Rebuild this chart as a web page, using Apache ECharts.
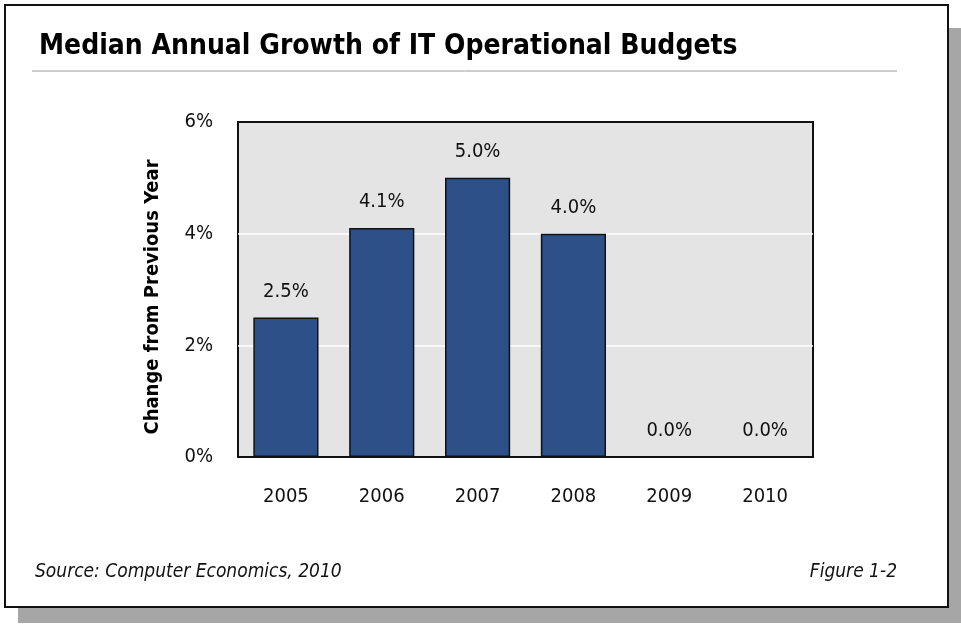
<!DOCTYPE html>
<html>
<head>
<meta charset="utf-8">
<script src="https://cdn.jsdelivr.net/npm/echarts@6/dist/echarts.min.js"></script>
<style>
  html, body { margin: 0; padding: 0; background: #fff; }
  #chart { width: 961px; height: 625px; }
</style>
</head>
<body>
<div id="chart"></div>
<script>
// Median annual growth of IT operational budgets, by year
const years = ['2005', '2006', '2007', '2008', '2009', '2010'];
const growth = [2.5, 4.1, 5.0, 4.0, 0.0, 0.0];
const yTicks = [0, 2, 4, 6];

const narrow = '"DejaVu Sans Condensed", "Liberation Sans Narrow", Arial, sans-serif';

const chart = echarts.init(document.getElementById('chart'), null, { renderer: 'canvas' });

// zero-height bars get no outline so nothing is drawn on the baseline
const barData = growth.map(v => v === 0 ? { value: v, itemStyle: { borderWidth: 0 } } : v);

chart.setOption({
  backgroundColor: '#ffffff',
  animation: false,
  graphic: [
    // drop shadow behind the framed panel
    { type: 'rect', z: -10, shape: { x: 18, y: 28, width: 943, height: 595 }, style: { fill: '#a6a6a6' } },
    // framed panel
    { type: 'rect', z: -9, shape: { x: 5, y: 5, width: 943, height: 602 }, style: { fill: '#ffffff', stroke: '#111', lineWidth: 2 } },
    // rule under the title
    { type: 'line', z: -8, shape: { x1: 32, y1: 71, x2: 897, y2: 71 }, style: { stroke: '#9a9a9a', lineWidth: 1 } },
    // vertical axis title
    {
      type: 'text', x: 153, y: 297, rotation: Math.PI / 2,
      style: { text: 'Change from Previous Year', font: 'bold 20px ' + narrow, fill: '#000', textAlign: 'center', textVerticalAlign: 'middle' }
    },
    // footer
    { type: 'text', left: 35, top: 563, style: { text: 'Source: Computer Economics, 2010', font: 'italic 19px ' + narrow, fill: '#111' } },
    { type: 'text', right: 64, top: 563, style: { text: 'Figure 1-2', font: 'italic 19px ' + narrow, fill: '#111', textAlign: 'right' } }
  ],
  title: {
    text: 'Median Annual Growth of IT Operational Budgets',
    left: 34,
    top: 28,
    textStyle: { fontFamily: narrow, fontWeight: 'bold', fontSize: 28, color: '#000' }
  },
  grid: {
    left: 238, right: 148, top: 122, bottom: 168,
    show: true, backgroundColor: '#e4e4e4', borderColor: '#111', borderWidth: 2
  },
  xAxis: {
    type: 'category',
    data: years,
    axisLine: { show: false },
    axisTick: { show: false },
    axisLabel: { margin: 30, fontFamily: narrow, fontSize: 20, color: '#111' }
  },
  yAxis: {
    type: 'value',
    min: yTicks[0], max: yTicks[yTicks.length - 1], interval: 2,
    axisLine: { show: false },
    axisTick: { show: false },
    splitLine: { showMinLine: false, showMaxLine: false, lineStyle: { color: '#ffffff', width: 1.5 } },
    axisLabel: { margin: 25, fontFamily: narrow, fontSize: 20, color: '#111', formatter: v => v + '%' }
  },
  series: [{
    type: 'bar',
    data: barData,
    barWidth: '68%',
    itemStyle: { color: '#2d5088', borderColor: '#111', borderWidth: 1.5 },
    label: {
      show: true, position: 'top', distance: 16,
      fontFamily: narrow, fontSize: 20, color: '#111',
      formatter: p => p.value.toFixed(1) + '%'
    }
  }]
});
</script>
</body>
</html>
